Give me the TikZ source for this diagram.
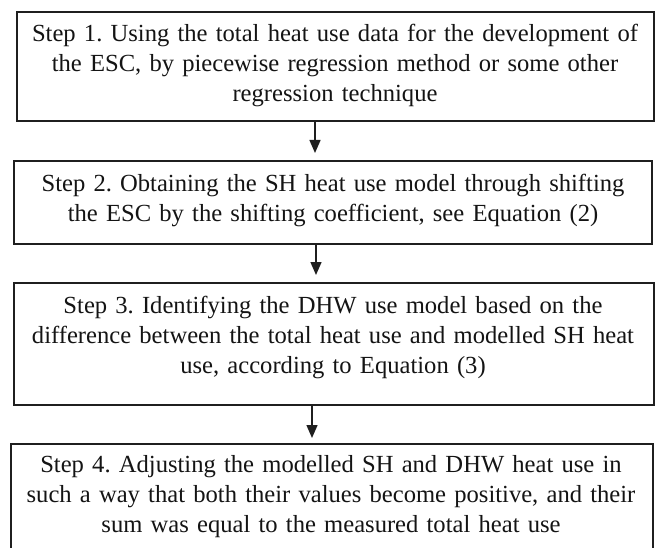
\documentclass[tikz,border=0pt]{standalone}
\usepackage{fontspec}
\setmainfont{Liberation Serif}
\usetikzlibrary{arrows.meta,calc}
\frenchspacing
\begin{document}
\begin{tikzpicture}[x=1pt,y=-1pt,
  stepbox/.style={draw=black!88, line width=1.6pt, inner sep=0pt, anchor=north west},
  steptext/.style={text width=640pt, align=center, inner sep=0pt, text=black!92,
    font=\fontsize{24.6}{30}\selectfont\frenchspacing, anchor=base},
  flow/.style={draw=black!88, line width=1.4pt, -{Triangle[length=13pt,width=11pt]}}]
\useasboundingbox (0,0) rectangle (656,548);
\fill[white] (0,0) rectangle (656,548);
% boxes
\node[stepbox, minimum width=637pt, minimum height=109pt] (s1) at (16,11) {};
\node[stepbox, minimum width=638pt, minimum height=83pt] (s2) at (13,160) {};
\node[stepbox, minimum width=640pt, minimum height=122pt] (s3) at (13,282) {};
\node[stepbox, minimum width=642pt, minimum height=108pt] (s4) at (10,443) {};
% texts
\node[steptext] (t1) at (335,42) {Step 1. Using the total heat use data for the development of\\
  the ESC, by piecewise regression method or some other\\ regression technique};
\node[steptext] (t2) at (333,192) {Step 2. Obtaining the SH heat use model through shifting\\
  the ESC by the shifting coefficient, see Equation (2)};
\node[steptext] (t3) at (333,313) {Step 3. Identifying the DHW use model based on the\\
  difference between the total heat use and modelled SH heat\\ use, according to Equation (3)};
\node[steptext] (t4) at (331,472) {Step 4. Adjusting the modelled SH and DHW heat use in\\
  such a way that both their values become positive, and their\\ sum was equal to the measured total heat use};
% arrows
\coordinate (ax1) at (315,0);
\coordinate (ax2) at (316,0);
\coordinate (ax3) at (312,0);
\draw[flow, shorten >=7pt] (s1.south -| ax1) -- (s2.north -| ax1);
\draw[flow, shorten >=7pt] (s2.south -| ax2) -- (s3.north -| ax2);
\draw[flow, shorten >=5pt] (s3.south -| ax3) -- (s4.north -| ax3);
\end{tikzpicture}
\end{document}
